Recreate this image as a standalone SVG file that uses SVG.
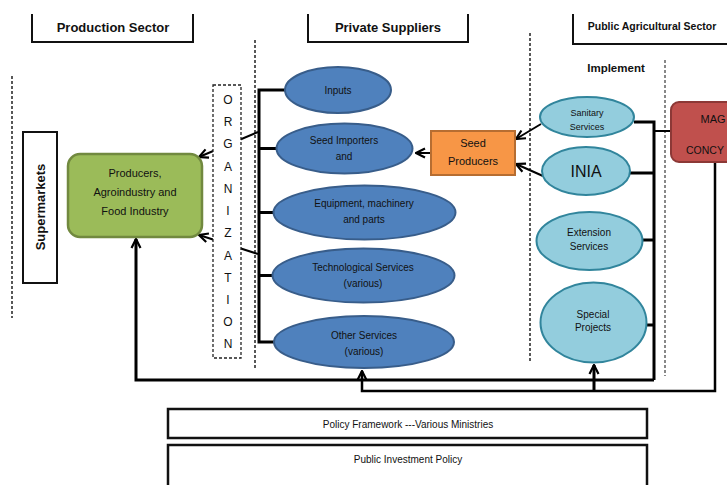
<svg xmlns="http://www.w3.org/2000/svg" width="727" height="485" viewBox="0 0 727 485">
<style>
text{font-family:"Liberation Sans",Arial,sans-serif;fill:#111;text-anchor:middle}
.hdr{font-weight:bold;font-size:13px}
.hb{fill:none;stroke:#111;stroke-width:2}
.dot{stroke:#222;stroke-width:1.5;stroke-dasharray:3,2;fill:none}
.gdot{stroke:#888;stroke-width:2;stroke-dasharray:3,2;fill:none}
.blue{fill:#4F81BD;stroke:#385D8A;stroke-width:2}
.lb{fill:#93CDDD;stroke:#31859C;stroke-width:2}
.t10{font-size:10px}
.c{fill:none;stroke:#000;stroke-width:3}
.c2{fill:none;stroke:#000;stroke-width:2}
.pb{fill:#fff;stroke:#111;stroke-width:2.5}
</style>
<defs>
<marker id="arr" viewBox="0 0 12 12" refX="11" refY="6" markerWidth="12" markerHeight="12" orient="auto" markerUnits="userSpaceOnUse">
<path d="M2,1.5 L11,6 L2,10.5" fill="none" stroke="#000" stroke-width="2.2"/>
</marker>
</defs>
<rect width="727" height="485" fill="#fff"/>

<g id="headers">
<path class="hb" d="M32,14 V42 H193 V14"/>
<text class="hdr" x="113" y="32">Production Sector</text>
<path class="hb" d="M308,14 V42 H468 V14"/>
<text class="hdr" x="388" y="32">Private Suppliers</text>
<path class="hb" d="M573,14 V44 H730"/>
<text x="652" y="30" style="font-weight:bold;font-size:10.5px">Public Agricultural Sector</text>
<text x="616" y="72" style="font-weight:bold;font-size:11.5px">Implement</text>
</g>

<g id="dividers">
<line class="dot" x1="12" y1="76" x2="12" y2="318"/>
<line class="dot" x1="255" y1="40" x2="255" y2="370"/>
<line class="dot" x1="530" y1="33" x2="530" y2="362"/>
<line class="gdot" x1="665" y1="60" x2="665" y2="376"/>
</g>

<g id="connectors">
<path class="c" d="M285,90 H259 V342 H274"/>
<path class="c" d="M259,148.5 H276 M259,212.5 H273 M259,275.5 H272"/>
<line class="c2" x1="258" y1="132" x2="199" y2="157" marker-end="url(#arr)"/>
<line class="c2" x1="258" y1="254" x2="199" y2="235" marker-end="url(#arr)"/>
<line class="c2" x1="431" y1="153" x2="416" y2="153" marker-end="url(#arr)"/>
<line class="c2" x1="541" y1="124" x2="516" y2="139" marker-end="url(#arr)"/>
<line class="c2" x1="543" y1="176" x2="516" y2="164" marker-end="url(#arr)"/>
<path class="c" d="M634,122 H654 V380 M630,173 H654 M643,240 H654 M647,325 H654"/>
<path class="c2" d="M654,131 H672"/>
<path class="c" d="M654,380 H136 V239" marker-end="url(#arr)"/>
<path class="c2" d="M715,162 V391 H362 V371" marker-end="url(#arr)" style="stroke-width:2.5"/>
<path class="c" d="M594,391 V365" marker-end="url(#arr)"/>
</g>

<g id="supermarkets">
<rect x="23" y="132" width="34" height="151" fill="#fff" stroke="#111" stroke-width="2"/>
<text class="hdr" transform="translate(45,207) rotate(-90)">Supermarkets</text>
</g>

<g id="producers">
<rect x="68" y="154" width="134" height="83" rx="12" fill="#9BBB59" stroke="#71893F" stroke-width="2.5"/>
<text x="135" y="177" style="font-size:11px">Producers,</text>
<text x="135" y="196" style="font-size:11px">Agroindustry and</text>
<text x="135" y="215" style="font-size:11px">Food Industry</text>
</g>

<g id="organization">
<rect x="213" y="85" width="28" height="273" fill="#fff" stroke="#222" stroke-width="1.3" stroke-dasharray="3,2"/>
<g style="font-size:12px">
<text x="228" y="104">O</text>
<text x="228" y="126">R</text>
<text x="228" y="148">G</text>
<text x="228" y="171">A</text>
<text x="228" y="193">N</text>
<text x="228" y="215">I</text>
<text x="228" y="237">Z</text>
<text x="228" y="260">A</text>
<text x="228" y="282">T</text>
<text x="228" y="304">I</text>
<text x="228" y="326">O</text>
<text x="228" y="348">N</text>
</g>
</g>

<g id="inputs"><ellipse class="blue" cx="338" cy="90" rx="53" ry="23"/><text class="t10" x="338" y="94">Inputs</text></g>
<g id="seed-importers"><ellipse class="blue" cx="344.5" cy="148.5" rx="68" ry="25"/><text class="t10" x="344" y="144">Seed Importers</text><text class="t10" x="344" y="160">and</text></g>
<g id="equipment"><ellipse class="blue" cx="364.5" cy="212.5" rx="91" ry="27"/><text class="t10" x="364" y="207">Equipment, machinery</text><text class="t10" x="364" y="223">and parts</text></g>
<g id="technological"><ellipse class="blue" cx="363.5" cy="275.5" rx="91" ry="27"/><text class="t10" x="363" y="271">Technological Services</text><text class="t10" x="363" y="287">(various)</text></g>
<g id="other-services"><ellipse class="blue" cx="364" cy="342" rx="90" ry="26"/><text class="t10" x="364" y="339">Other Services</text><text class="t10" x="364" y="355">(various)</text></g>

<g id="seed-producers"><rect x="431" y="131" width="84" height="44" fill="#F79646" stroke="#B66D31" stroke-width="2"/><text x="473" y="147" style="font-size:11px">Seed</text><text x="473" y="165" style="font-size:11px">Producers</text></g>

<g id="sanitary"><ellipse class="lb" cx="587" cy="117" rx="47" ry="20"/><text x="587" y="116" style="font-size:9px">Sanitary</text><text x="587" y="130" style="font-size:9px">Services</text></g>
<g id="inia"><ellipse class="lb" cx="586" cy="171" rx="44" ry="24"/><text x="586" y="177" style="font-size:16px">INIA</text></g>
<g id="extension"><ellipse class="lb" cx="589.5" cy="241" rx="53" ry="29"/><text class="t10" x="589" y="236">Extension</text><text class="t10" x="589" y="250">Services</text></g>
<g id="special"><ellipse class="lb" cx="593.5" cy="322.5" rx="53" ry="40"/><text class="t10" x="593" y="318">Special</text><text class="t10" x="593" y="331">Projects</text></g>

<g id="mag"><rect x="671" y="102" width="70" height="60" rx="8" fill="#C0504D" stroke="#8C3836" stroke-width="2"/><text x="713" y="123" style="font-size:11px">MAG</text><text x="686" y="154" style="font-size:10.5px;text-anchor:start">CONCY</text></g>

<g id="policy-framework"><rect class="pb" x="168" y="409" width="479" height="29"/><text class="t10" x="408" y="428">Policy Framework ---Various Ministries</text></g>
<g id="public-investment"><rect class="pb" x="168" y="445" width="479" height="50"/><text class="t10" x="408" y="463">Public Investment Policy</text></g>
</svg>
